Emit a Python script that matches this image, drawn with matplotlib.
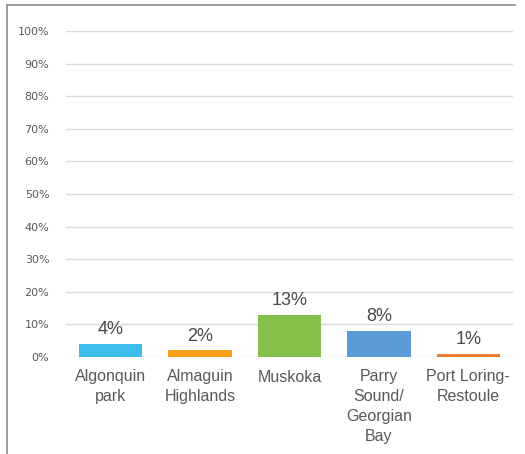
import matplotlib
matplotlib.use("Agg")
import matplotlib.pyplot as plt
from matplotlib.lines import Line2D

categories = ["Algonquin\npark", "Almaguin\nHighlands", "Muskoka",
              "Parry\nSound/\nGeorgian\nBay", "Port Loring-\nRestoule"]
values = [0.04, 0.02, 0.13, 0.08, 0.01]
colors = ["#3dbdec", "#f7a11a", "#84c04a", "#5b9bd5", "#ed7d31"]
yticks = [i / 10 for i in range(11)]
ytick_labels = [f"{i * 10}%" for i in range(11)]

W, H = 525, 454
fig = plt.figure(figsize=(W / 100, H / 100), dpi=100)
ax = fig.add_axes([66 / W, 1 - 357 / H, (513 - 66) / W, (357 - 31) / H])

x = list(range(len(categories)))
ax.bar(x, values, width=0.71, color=colors, zorder=3)
for xi, v in zip(x, values):
    ax.text(xi, v + 0.017, f"{round(v * 100)}%", ha="center", va="bottom",
            fontsize=13, color="#4a4a4a", family="Liberation Sans")

ax.set_ylim(0, 1)
ax.set_xlim(-0.5, len(categories) - 0.5)
ax.set_yticks(yticks)
ax.set_yticklabels(ytick_labels, fontsize=8, color="#595959", family="DejaVu Sans")
ax.set_xticks(x)
ax.set_xticklabels(categories, fontsize=11.5, color="#595959", family="Liberation Sans",
                   linespacing=1.4)
ax.tick_params(axis="both", length=0)
ax.tick_params(axis="y", pad=12)
ax.tick_params(axis="x", pad=9)
ax.grid(axis="y", color="#d9d9d9", linewidth=1, zorder=0)
for s in ax.spines.values():
    s.set_visible(False)

# frame lines along the top and left edges
fig.add_artist(Line2D([7 / W, 515 / W], [1 - 5 / H, 1 - 5 / H],
                      transform=fig.transFigure, color="#8c8c8c", linewidth=1.2))
fig.add_artist(Line2D([7 / W, 7 / W], [0, 1 - 5 / H],
                      transform=fig.transFigure, color="#8c8c8c", linewidth=1.2))

fig.savefig("out.png", dpi=100)
